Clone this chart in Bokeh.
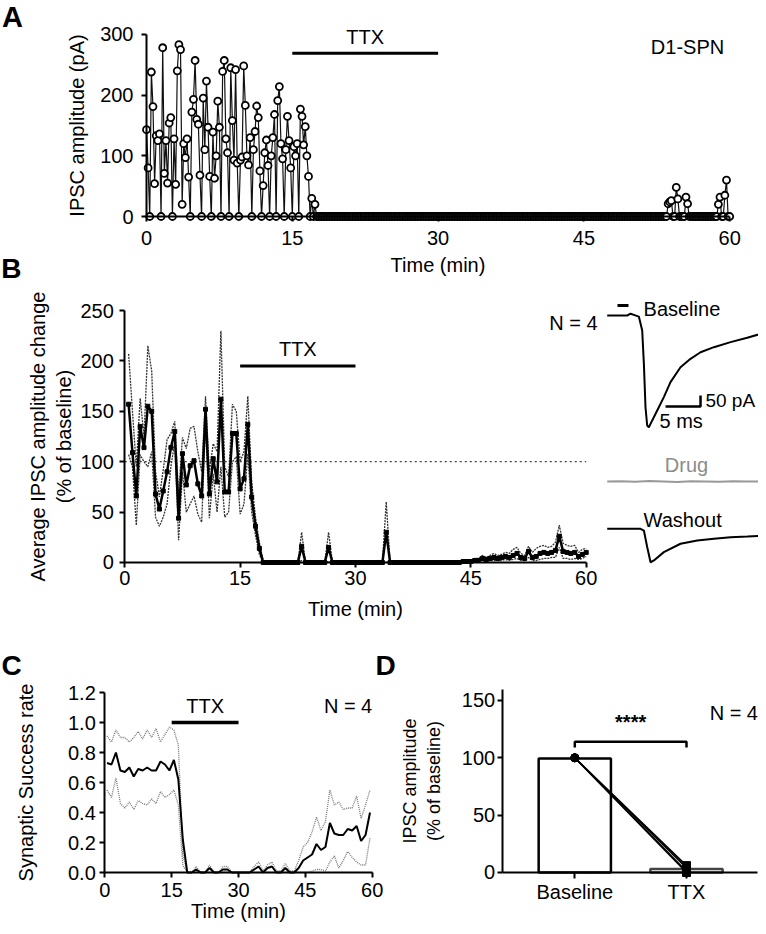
import numpy as np
from bokeh.plotting import figure
from bokeh.models import Label, Range1d, FixedTicker, NumeralTickFormatter
from bokeh.layouts import column, row
from bokeh.embed import file_html
from bokeh.resources import INLINE

FONT = "Liberation Sans"
FS = "20px"

# ---------------- data ----------------
TIME_TICKS = [0, 15, 30, 45, 60]
TTX_START, TTX_END = 15, 30

# Panel A : single D1-SPN, IPSC amplitude per sweep (pA)
A_SWEEPS_PER_MIN = 6
A_TOTAL_MIN = 60
A_EARLY_AMP = [143, 80, 0, 238, 181, 54, 133, 125, 136, 0,
               278, 71, 125, 55, 154, 163, 0, 128, 53, 240,
               283, 275, 20, 120, 97, 128, 65, 0, 172, 193,
               257, 160, 152, 68, 0, 195, 110, 223, 147, 66,
               0, 139, 63, 100, 190, 147, 0, 239, 257, 128,
               105, 0, 245, 158, 93, 242, 88, 0, 93, 98,
               248, 183, 100, 85, 130, 0, 110, 140, 182, 163,
               75, 0, 51, 105, 126, 84, 0, 100, 130, 168,
               0, 191, 214, 120, 95, 0, 110, 165, 125, 80,
               0, 115, 100, 120, 0, 177, 165, 118, 148, 100,
               66, 0, 30, 0, 20, 0, 0, 0]
A_LATE_TIME = [53.67, 53.83, 54.0, 54.5, 54.67, 55.5, 55.67, 58.83, 59.0, 59.5, 59.67]
A_LATE_AMP = [21, 24, 26, 48, 29, 32, 21, 20, 32, 35, 60]
A_YTICKS = [0, 100, 200, 300]

# Panel B : average IPSC amplitude (% of baseline), mean and mean +/- SEM
B_TIME = [0.5 * (k + 1) for k in range(120)]
B_MEAN = [157, 109, 66, 135, 114, 155, 150, 68, 53, 71,
          90, 114, 130, 44, 108, 77, 96, 101, 78, 66,
          152, 68, 103, 80, 162, 70, 70, 128, 128, 73,
          83, 137, 65, 36, 14, 0, 0, 0, 0, 0,
          0, 0, 0, 0, 0, 16, 0, 0, 0, 0,
          0, 0, 15, 0, 0, 0, 0, 0, 0, 0,
          0, 0, 0, 0, 0, 0, 0, 30, 0, 0,
          0, 0, 0, 0, 0, 0, 0, 0, 0, 0,
          0, 0, 0, 0, 0, 0, 0, 1, 1, 1,
          2, 2, 4, 3, 4, 5, 4, 5, 6, 5,
          7, 9, 5, 4, 11, 5, 6, 9, 10, 9,
          10, 12, 26, 11, 10, 9, 10, 6, 8, 10]
B_UPPER = [207, 150, 95, 163, 125, 215, 190, 90, 65, 92,
           122, 128, 140, 68, 124, 113, 133, 135, 110, 90,
           165, 90, 118, 110, 230, 95, 85, 157, 150, 100,
           110, 165, 80, 45, 20, 2, 0, 0, 0, 0,
           0, 0, 0, 0, 0, 30, 0, 0, 0, 0,
           0, 0, 30, 0, 0, 0, 0, 0, 0, 0,
           0, 0, 0, 0, 0, 0, 0, 60, 0, 0,
           0, 0, 0, 0, 0, 0, 0, 0, 0, 0,
           0, 0, 0, 0, 0, 0, 0, 2, 2, 2,
           4, 4, 7, 5, 7, 9, 7, 8, 10, 9,
           13, 15, 9, 7, 16, 10, 14, 16, 17, 15,
           16, 20, 37, 19, 17, 16, 17, 10, 13, 14]
B_LOWER = [107, 95, 37, 107, 100, 95, 110, 45, 36, 45,
           58, 95, 120, 22, 90, 50, 58, 66, 48, 40,
           138, 44, 88, 50, 95, 45, 50, 100, 105, 48,
           58, 108, 50, 27, 8, 0, 0, 0, 0, 0,
           0, 0, 0, 0, 0, 2, 0, 0, 0, 0,
           0, 0, 1, 0, 0, 0, 0, 0, 0, 0,
           0, 0, 0, 0, 0, 0, 0, 0, 0, 0,
           0, 0, 0, 0, 0, 0, 0, 0, 0, 0,
           0, 0, 0, 0, 0, 0, 0, 0, 0, 0,
           1, 1, 2, 1, 2, 2, 2, 2, 3, 2,
           3, 4, 2, 2, 5, 2, 2, 3, 4, 4,
           5, 5, 15, 4, 4, 3, 4, 3, 4, 6]
B_YTICKS = [0, 50, 100, 150, 200, 250]
B_REF_PCT = 100
N_CELLS = 4

# Example traces (ms, pA)
BASE_T = [0.0, 2.86, 3.33, 3.81, 4.52, 5.0, 5.24, 5.47, 5.71, 5.95, 6.43,
          7.14, 8.09, 9.04, 10.47, 11.9, 13.33, 15.24, 17.62, 20.0, 22.76]
BASE_I = [0, 0, 8, 3, -5, -68, -220, -417, -500, -508, -477,
          -432, -371, -303, -235, -197, -167, -144, -121, -101, -76]
DRUG_T = [0.0, 2.0, 4.0, 6.0, 8.0, 10.0, 12.0, 14.0, 16.0, 18.0, 20.0, 22.76]
DRUG_I = [0, 1, -1, 2, 0, -2, 1, 0, -1, 1, 0, 1]
WASH_T = [0.0, 4.76, 5.24, 5.71, 6.19, 6.67, 8.09, 10.47, 12.86, 15.24, 17.62, 20.0, 22.76]
WASH_I = [0, 0, -8, -83, -152, -144, -106, -68, -53, -45, -38, -35, -30]
SCALE_MS = 5
SCALE_PA = 50

# Panel C : synaptic success rate
C_TIME = [k + 0.5 for k in range(60)]
C_MEAN = [0.73, 0.72, 0.80, 0.68, 0.67, 0.70, 0.64, 0.69, 0.68, 0.70,
          0.68, 0.68, 0.74, 0.72, 0.68, 0.75, 0.62, 0.22, 0.0, 0.0,
          0.02, 0.0, 0.0, 0.03, 0.0, 0.0, 0.02, 0.02, 0.0, 0.0,
          0.0, 0.0, 0.0, 0.02, 0.04, 0.0, 0.03, 0.04, 0.0, 0.0,
          0.03, 0.0, 0.0, 0.03, 0.08, 0.10, 0.12, 0.19, 0.15, 0.17,
          0.33, 0.26, 0.25, 0.25, 0.29, 0.28, 0.31, 0.21, 0.25, 0.40]
C_UPPER = [0.91, 0.87, 0.95, 0.90, 0.90, 0.87, 0.90, 0.94, 0.89, 0.95,
           0.90, 0.96, 0.87, 0.92, 0.97, 0.95, 0.85, 0.12, 0.0, 0.0,
           0.04, 0.0, 0.0, 0.05, 0.0, 0.0, 0.04, 0.04, 0.0, 0.0,
           0.0, 0.0, 0.0, 0.04, 0.07, 0.01, 0.05, 0.07, 0.01, 0.01,
           0.06, 0.01, 0.01, 0.08, 0.17, 0.20, 0.27, 0.37, 0.28, 0.34,
           0.55, 0.45, 0.47, 0.42, 0.43, 0.43, 0.51, 0.36, 0.45, 0.55]
C_LOWER = [0.55, 0.50, 0.63, 0.46, 0.43, 0.47, 0.42, 0.48, 0.46, 0.45,
           0.49, 0.46, 0.54, 0.50, 0.52, 0.55, 0.45, 0.05, 0.0, 0.0,
           0.0, 0.0, 0.0, 0.0, 0.0, 0.0, 0.0, 0.0, 0.0, 0.0,
           0.0, 0.0, 0.0, 0.0, 0.0, 0.0, 0.0, 0.0, 0.0, 0.0,
           0.0, 0.0, 0.0, 0.0, 0.0, 0.0, 0.01, 0.02, 0.02, 0.01,
           0.07, 0.11, 0.03, 0.08, 0.14, 0.10, 0.07, 0.05, 0.05, 0.23]
C_YTICKS = [0.0, 0.2, 0.4, 0.6, 0.8, 1.0, 1.2]

# Panel D
D_GROUPS = ["Baseline", "TTX"]
D_BAR = [99.4, 3.0]
D_CELL_BASE = [100, 100, 100, 100]
D_CELL_TTX = [6, 4, 1, 0]
D_YTICKS = [0, 50, 100, 150]
D_SIG = "****"


# ---------------- helpers ----------------
def make_fig(w, h, xr, yr, axes=True):
    kw = dict(width=w, height=h, min_border=0, x_range=Range1d(*xr), y_range=Range1d(*yr),
              output_backend="svg", toolbar_location=None)
    if not axes:
        kw.update(x_axis_location=None, y_axis_location=None)
    p = figure(**kw)
    p.grid.visible = False
    p.outline_line_color = None
    p.background_fill_color = "white"
    p.border_fill_color = "white"
    return p


def style(p, xbounds, ybounds, fs=FS):
    p.xaxis.fixed_location = 0
    p.yaxis.fixed_location = 0 if xbounds[0] <= 0 else xbounds[0]
    p.xaxis.bounds = xbounds
    p.yaxis.bounds = ybounds
    for ax in p.axis:
        ax.axis_line_width = 2
        ax.axis_line_color = "black"
        ax.major_tick_line_width = 2
        ax.major_tick_line_color = "black"
        ax.major_tick_out = 5
        ax.major_tick_in = 0
        ax.minor_tick_line_color = None
        ax.major_label_text_font = FONT
        ax.major_label_text_font_size = FS
        ax.major_label_text_color = "black"
        ax.axis_label_text_font = FONT
        ax.axis_label_text_font_size = fs
        ax.axis_label_text_font_style = "normal"
        ax.axis_label_text_color = "black"


def lab(p, x, y, text, size=FS, align="center", baseline="middle", bold=False, color="black"):
    p.add_layout(Label(x=x, y=y, text=text, text_font=FONT, text_font_size=size,
                       text_align=align, text_baseline=baseline,
                       text_font_style="bold" if bold else "normal", text_color=color))


# ---------------- Panel A ----------------
n_sw = A_SWEEPS_PER_MIN * A_TOTAL_MIN + 1
a_t = np.arange(n_sw) / A_SWEEPS_PER_MIN
a_y = np.zeros(n_sw)
a_y[:len(A_EARLY_AMP)] = A_EARLY_AMP
for t, v in zip(A_LATE_TIME, A_LATE_AMP):
    a_y[int(round(t * A_SWEEPS_PER_MIN))] = v

A_YR = (-112.0, 355.8)
pA = make_fig(758, 284, (-15.02, 62.96), A_YR)
pA.line(a_t, a_y, line_color="#111111", line_width=1.2)
pA.scatter(a_t, a_y, marker="circle", size=7, fill_color="white", line_color="black", line_width=1.8)
pA.segment(x0=[TTX_START], y0=[269], x1=[TTX_END], y1=[269], line_color="black", line_width=3)
lab(pA, (TTX_START + TTX_END) / 2, 295.7, "TTX")
lab(pA, 55.66, 279, "D1-SPN")
lab(pA, -13.79, A_YR[1], "A", size="29px", bold=True, baseline="top")
lab(pA, -13.89, -85.7, "B", size="28px", bold=True)
pA.xaxis.ticker = FixedTicker(ticks=TIME_TICKS)
pA.yaxis.ticker = FixedTicker(ticks=A_YTICKS)
pA.xaxis.axis_label = "Time (min)"
pA.yaxis.axis_label = "IPSC amplitude (pA)"
style(pA, (0, 60), (0, 300))
pA.xaxis.major_label_standoff = 9
pA.xaxis.axis_label_standoff = 6
pA.yaxis.major_label_standoff = 8
pA.yaxis.axis_label_standoff = 9

# ---------------- Panel B ----------------
pB = make_fig(601, 342, (-16.16, 61.99), (-63.5, 275.8))
pB.line([TIME_TICKS[0], TIME_TICKS[-1]], [B_REF_PCT, B_REF_PCT], line_color="#444444",
        line_dash="2 3", line_width=1.3)
pB.line(B_TIME, B_UPPER, line_color="#333333", line_dash="2 1", line_width=1.3)
pB.line(B_TIME, B_LOWER, line_color="#333333", line_dash="2 1", line_width=1.3)
pB.line(B_TIME, B_MEAN, line_color="black", line_width=2.5)
pB.scatter(B_TIME, B_MEAN, marker="square", size=4, color="black")
pB.segment(x0=[TTX_START], y0=[195], x1=[TTX_END], y1=[195], line_color="black", line_width=3)
lab(pB, (TTX_START + TTX_END) / 2, 212, "TTX")
lab(pB, 61.47, 238, "N = %d" % N_CELLS, align="right")
pB.xaxis.ticker = FixedTicker(ticks=TIME_TICKS)
pB.yaxis.ticker = FixedTicker(ticks=B_YTICKS)
pB.xaxis.axis_label = "Time (min)"
pB.yaxis.axis_label = "Average IPSC amplitude change\n(% of baseline)"
style(pB, (0, 60), (0, 250))
pB.xaxis.major_label_standoff = 4
pB.xaxis.axis_label_standoff = 9
pB.yaxis.major_label_standoff = 6
pB.yaxis.axis_label_standoff = 2

# ---------------- traces ----------------
TR_X = (-0.814, 21.61)

t1 = make_fig(157, 160, TR_X, (-586.4, 140.9), axes=False)
t1.line(BASE_T, BASE_I, line_color="black", line_width=2)
t1.segment(x0=[1.47], y0=[45], x1=[3.04], y1=[45], line_color="black", line_width=3)
sx, sy = 8.33, -414
t1.line([sx, sx + SCALE_MS, sx + SCALE_MS], [sy, sy, sy + SCALE_PA], line_color="black", line_width=2.5)
lab(t1, 5.19, 30, "Baseline", align="left")
lab(t1, sx + SCALE_MS + 0.7, -386, "%d pA" % SCALE_PA, align="left", size="19px")
lab(t1, 7.47, -480, "%d ms" % SCALE_MS, align="left")

t2 = make_fig(157, 60, TR_X, (-104.5, 168.2), axes=False)
t2.line(DRUG_T, DRUG_I, line_color="#999999", line_width=2)
lab(t2, 11.33, 73, "Drug", color="#8c8c8c")

t3 = make_fig(157, 122, TR_X, (-444.1, 110.5), axes=False)
t3.line(WASH_T, WASH_I, line_color="black", line_width=2)
lab(t3, 5.19, 38, "Washout", align="left")

# ---------------- Panel C ----------------
pC = make_fig(400, 300, (-23.40, 66.34), (-0.36, 1.64))
pC.line(C_TIME, C_UPPER, line_color="#777777", line_dash="1 1", line_width=1.3)
pC.line(C_TIME, C_LOWER, line_color="#777777", line_dash="1 1", line_width=1.3)
pC.line(C_TIME, C_MEAN, line_color="black", line_width=2)
pC.segment(x0=[TTX_START], y0=[1.0], x1=[TTX_END], y1=[1.0], line_color="black", line_width=3.5)
lab(pC, (TTX_START + TTX_END) / 2, 1.113, "TTX")
lab(pC, 60, 1.113, "N = %d" % N_CELLS, align="right")
lab(pC, -20.93, 1.38, "C", size="28px", bold=True)
lab(pC, 62.98, 1.38, "D", size="28px", bold=True)
pC.xaxis.ticker = FixedTicker(ticks=TIME_TICKS)
pC.yaxis.ticker = FixedTicker(ticks=C_YTICKS)
pC.yaxis.formatter = NumeralTickFormatter(format="0.0")
pC.xaxis.axis_label = "Time (min)"
pC.yaxis.axis_label = "Synaptic Success rate"
style(pC, (0, 60), (0, 1.2))
pC.xaxis.major_label_standoff = 5
pC.xaxis.axis_label_standoff = 0
pC.yaxis.major_label_standoff = 4
pC.yaxis.axis_label_standoff = 28

# ---------------- Panel D ----------------
pD = make_fig(358, 300, (-0.5604, 2.6446), (-47.1, 214.5))
pD.vbar(x=[1, 2], top=D_BAR, width=0.647, fill_color="white",
        line_color=["black", "#444444"], line_width=2.5)
for b, t in zip(D_CELL_BASE, D_CELL_TTX):
    pD.line([1, 2], [b, t], line_color="black", line_width=1.5)
pD.scatter([1] * len(D_CELL_BASE), D_CELL_BASE, marker="circle", size=8, color="black")
pD.scatter([2] * len(D_CELL_TTX), D_CELL_TTX, marker="square", size=8, color="black")
pD.line([1, 1, 2, 2], [109, 114, 114, 109], line_color="black", line_width=2.5)
lab(pD, 1.5, 131, D_SIG, bold=True)
lab(pD, 2.64, 139, "N = %d" % N_CELLS, align="right")
pD.xaxis.ticker = FixedTicker(ticks=[1, 2])
pD.xaxis.major_label_overrides = {1: D_GROUPS[0], 2: D_GROUPS[1]}
pD.yaxis.ticker = FixedTicker(ticks=D_YTICKS)
pD.yaxis.axis_label = "IPSC amplitude\n(% of baseline)"
style(pD, (0.35, 2.64), (0, 160), fs="18px")
pD.xaxis.major_tick_out = 6
pD.xaxis.major_label_standoff = 3
pD.yaxis.major_label_standoff = 2
pD.yaxis.axis_label_standoff = 15

layout = column(pA, row(pB, column(t1, t2, t3)), row(pC, pD))
open("out.html", "w").write(file_html(layout, INLINE))
